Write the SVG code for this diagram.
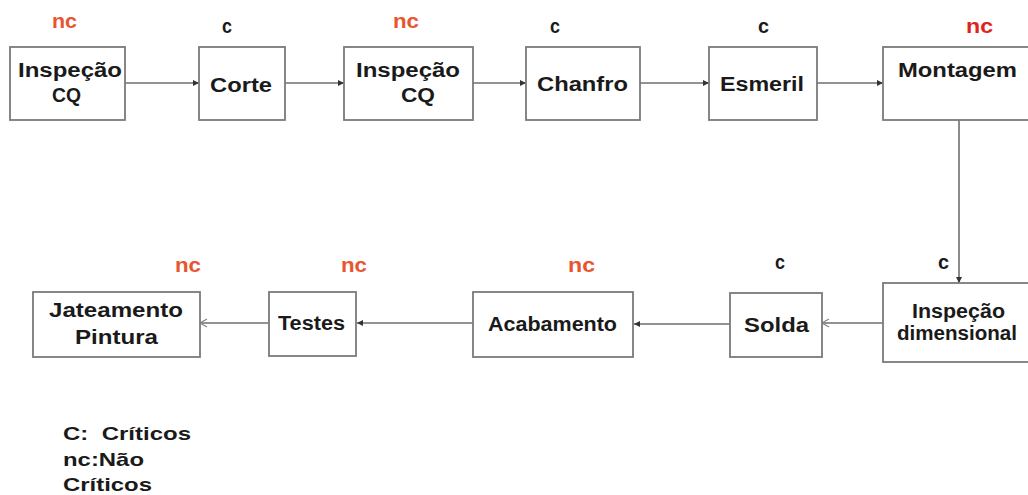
<svg xmlns="http://www.w3.org/2000/svg" width="1028" height="495" viewBox="0 0 1028 495">
<style>
.box{fill:#fff;stroke:#7a7a7a;stroke-width:1.8}
.t{font-family:"Liberation Sans",Arial,sans-serif;font-weight:bold;font-size:20px;fill:#1a1a1a}
.nc{font-family:"Liberation Sans",Arial,sans-serif;font-weight:bold;font-size:20px;fill:#e8552f}
.ncr{fill:#e0231d}
.c{font-family:"Liberation Sans",Arial,sans-serif;font-weight:bold;font-size:20px;fill:#1a1a1a}
.lg{font-family:"Liberation Sans",Arial,sans-serif;font-weight:bold;font-size:19px;fill:#1a1a1a}
.ln{stroke:#6e6e6e;stroke-width:1.6;fill:none}
</style>
<defs>
<marker id="af" markerWidth="8" markerHeight="8" refX="6" refY="4" orient="auto" markerUnits="userSpaceOnUse">
<path d="M0,1 L6,4 L0,7 Z" fill="#333"/>
</marker>
<marker id="ao" markerWidth="10" markerHeight="10" refX="8" refY="5" orient="auto" markerUnits="userSpaceOnUse">
<path d="M1,1 L8,5 L1,9" fill="none" stroke="#888" stroke-width="1.3"/>
</marker>
</defs>
<g id="connectors">
<line class="ln" x1="125" y1="83" x2="199" y2="83" marker-end="url(#af)"/>
<line class="ln" x1="285" y1="83" x2="344" y2="83" marker-end="url(#af)"/>
<line class="ln" x1="473" y1="83" x2="526" y2="83" marker-end="url(#af)"/>
<line class="ln" x1="640" y1="83" x2="709" y2="83" marker-end="url(#af)"/>
<line class="ln" x1="817" y1="83" x2="883" y2="83" marker-end="url(#af)"/>
<line class="ln" x1="959" y1="120" x2="959" y2="283" marker-end="url(#af)"/>
<line class="ln" x1="883" y1="323" x2="822" y2="323" marker-end="url(#ao)"/>
<line class="ln" x1="730" y1="324" x2="634" y2="324" marker-end="url(#af)"/>
<line class="ln" x1="473" y1="323" x2="357" y2="323" marker-end="url(#af)"/>
<line class="ln" x1="269" y1="323" x2="200" y2="323" marker-end="url(#ao)"/>
</g>
<g id="n1">
<rect class="box" x="10" y="47" width="115" height="73"/>
<text class="t" x="18" y="77" textLength="104" lengthAdjust="spacingAndGlyphs">Inspeção</text>
<text class="t" x="52" y="102" textLength="29" lengthAdjust="spacingAndGlyphs">CQ</text>
<text class="nc" x="52" y="28" textLength="25" lengthAdjust="spacingAndGlyphs">nc</text>
</g>
<g id="n2">
<rect class="box" x="199" y="47" width="86" height="73"/>
<text class="t" x="210" y="92" textLength="62" lengthAdjust="spacingAndGlyphs">Corte</text>
<text class="c" x="222" y="33" textLength="10" lengthAdjust="spacingAndGlyphs">c</text>
</g>
<g id="n3">
<rect class="box" x="344" y="47" width="129" height="73"/>
<text class="t" x="356" y="77" textLength="104" lengthAdjust="spacingAndGlyphs">Inspeção</text>
<text class="t" x="401" y="102" textLength="34" lengthAdjust="spacingAndGlyphs">CQ</text>
<text class="nc" x="393" y="28" textLength="26" lengthAdjust="spacingAndGlyphs">nc</text>
</g>
<g id="n4">
<rect class="box" x="526" y="47" width="114" height="73"/>
<text class="t" x="537" y="91" textLength="91" lengthAdjust="spacingAndGlyphs">Chanfro</text>
<text class="c" x="550" y="33" textLength="10" lengthAdjust="spacingAndGlyphs">c</text>
</g>
<g id="n5">
<rect class="box" x="709" y="47" width="108" height="73"/>
<text class="t" x="720" y="91" textLength="84" lengthAdjust="spacingAndGlyphs">Esmeril</text>
<text class="c" x="758" y="33" textLength="11" lengthAdjust="spacingAndGlyphs">c</text>
</g>
<g id="n6">
<rect class="box" x="883" y="47" width="150" height="73"/>
<text class="t" x="898" y="77" textLength="119" lengthAdjust="spacingAndGlyphs">Montagem</text>
<text class="nc ncr" x="966" y="33" textLength="27" lengthAdjust="spacingAndGlyphs">nc</text>
</g>
<g id="n7">
<rect class="box" x="883" y="283" width="150" height="79"/>
<text class="t" x="912" y="318" textLength="93" lengthAdjust="spacingAndGlyphs">Inspeção</text>
<text class="t" x="897" y="340" textLength="120" lengthAdjust="spacingAndGlyphs">dimensional</text>
<text class="c" x="938" y="269" textLength="11" lengthAdjust="spacingAndGlyphs">c</text>
</g>
<g id="n8">
<rect class="box" x="730" y="293" width="92" height="64"/>
<text class="t" x="744" y="332" textLength="65" lengthAdjust="spacingAndGlyphs">Solda</text>
<text class="c" x="775" y="269" textLength="10" lengthAdjust="spacingAndGlyphs">c</text>
</g>
<g id="n9">
<rect class="box" x="473" y="292" width="160" height="65"/>
<text class="t" x="488" y="331" textLength="129" lengthAdjust="spacingAndGlyphs">Acabamento</text>
<text class="nc" x="568" y="272" textLength="27" lengthAdjust="spacingAndGlyphs">nc</text>
</g>
<g id="n10">
<rect class="box" x="269" y="292" width="87" height="64"/>
<text class="t" x="278" y="330" textLength="67" lengthAdjust="spacingAndGlyphs">Testes</text>
<text class="nc" x="341" y="272" textLength="26" lengthAdjust="spacingAndGlyphs">nc</text>
</g>
<g id="n11">
<rect class="box" x="33" y="292" width="167" height="65"/>
<text class="t" x="49" y="317" textLength="134" lengthAdjust="spacingAndGlyphs">Jateamento</text>
<text class="t" x="75" y="344" textLength="83" lengthAdjust="spacingAndGlyphs">Pintura</text>
<text class="nc" x="175" y="272" textLength="26" lengthAdjust="spacingAndGlyphs">nc</text>
</g>
<g id="legend">
<text class="lg" x="63" y="440" textLength="128" lengthAdjust="spacingAndGlyphs" xml:space="preserve">C:  Críticos</text>
<text class="lg" x="63" y="466" textLength="81" lengthAdjust="spacingAndGlyphs">nc:Não</text>
<text class="lg" x="63" y="491" textLength="89" lengthAdjust="spacingAndGlyphs">Críticos</text>
</g>
</svg>
